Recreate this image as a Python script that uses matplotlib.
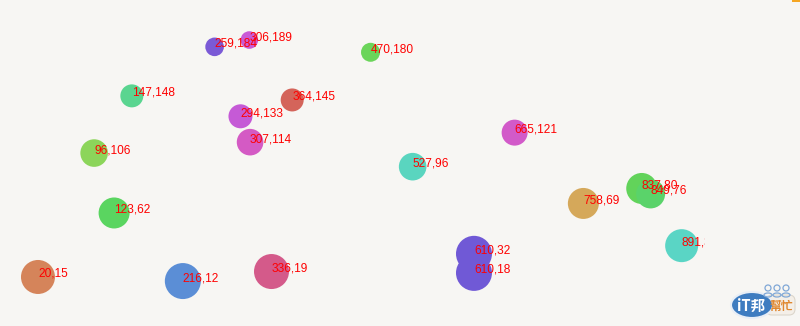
import matplotlib.pyplot as plt
from matplotlib.patches import Ellipse, FancyBboxPatch, Rectangle

# bubble data: x, y, radius (px) and colour
xs = [20, 96, 123, 147, 216, 259, 306, 294, 307, 336, 364, 470, 527, 665, 610, 610, 758, 837, 849, 891]
ys = [15, 106, 62, 148, 12, 184, 189, 133, 114, 19, 145, 180, 96, 121, 32, 18, 69, 80, 76, 38]
radius = [17, 13.8, 15.5, 11.5, 18, 9.3, 8.8, 12, 13.3, 17.5, 11.5, 9.5, 13.8, 13, 18, 18, 15.5, 15.5, 14.5, 16.5]
colors = ['#D5845A', '#8CD55A', '#5AD560', '#5AD590', '#5B8ED6', '#7B5AD6', '#C95AD6',
          '#C55AD6', '#D45AC4', '#D45A8A', '#D4645A', '#6BD55A', '#5AD5BF', '#D25AC9',
          '#7059D6', '#7059D6', '#D5A85A', '#62D35A', '#5AD36A', '#5AD5C5']

bg = '#F7F6F3'
fig = plt.figure(figsize=(8, 3.26), dpi=100, facecolor=bg)

ax = fig.add_axes([0, 0, 705 / 800, 1])
ax.set_facecolor('none')
ax.set_xlim(-31.4, 922.6)
ax.set_ylim(-21.0, 218.4)
ax.axis('off')

sizes = [(2 * r * 0.72) ** 2 for r in radius]
ax.scatter(xs, ys, s=sizes, c=colors, linewidths=0, zorder=2)

for x, y in zip(xs, ys):
    ax.text(x, y, f'{x},{y}', color='red', fontsize=8.6, family='Liberation Sans',
            ha='left', va='baseline', zorder=3, clip_on=True)

# little site logo in the corner
lg = fig.add_axes([0, 0, 1, 1])
lg.set_xlim(0, 800)
lg.set_ylim(326, 0)
lg.axis('off')
lg.set_facecolor('none')
lg.add_patch(Rectangle((792, 0), 8, 2, color='#F5A623', lw=0))
lg.add_patch(FancyBboxPatch((767, 296), 27, 18, boxstyle='round,pad=1,rounding_size=6',
                            fc='#F4EFE8', ec='#DCD6CC', lw=0.8))
lg.add_patch(Ellipse((752, 305), 42, 26, fc='#3E7CC0', ec='#E8EEF6', lw=1.5))
lg.text(751, 306, 'iT邦', color='white', fontsize=10.5, fontweight='bold', style='italic',
        family=['Noto Sans CJK TC', 'DejaVu Sans'], ha='center', va='center')
lg.text(781, 306, '幫忙', color='#E0872E', fontsize=8.5, fontweight='bold',
        family=['Noto Sans CJK TC', 'DejaVu Sans'], ha='center', va='center')
for px in (768, 777, 786):
    lg.add_patch(Ellipse((px, 288), 6, 6, fc='none', ec='#7FA7D6', lw=0.9))
    lg.add_patch(Ellipse((px, 295), 8, 4, fc='none', ec='#7FA7D6', lw=0.9))

fig.savefig('out.png', dpi=100, facecolor=bg)
